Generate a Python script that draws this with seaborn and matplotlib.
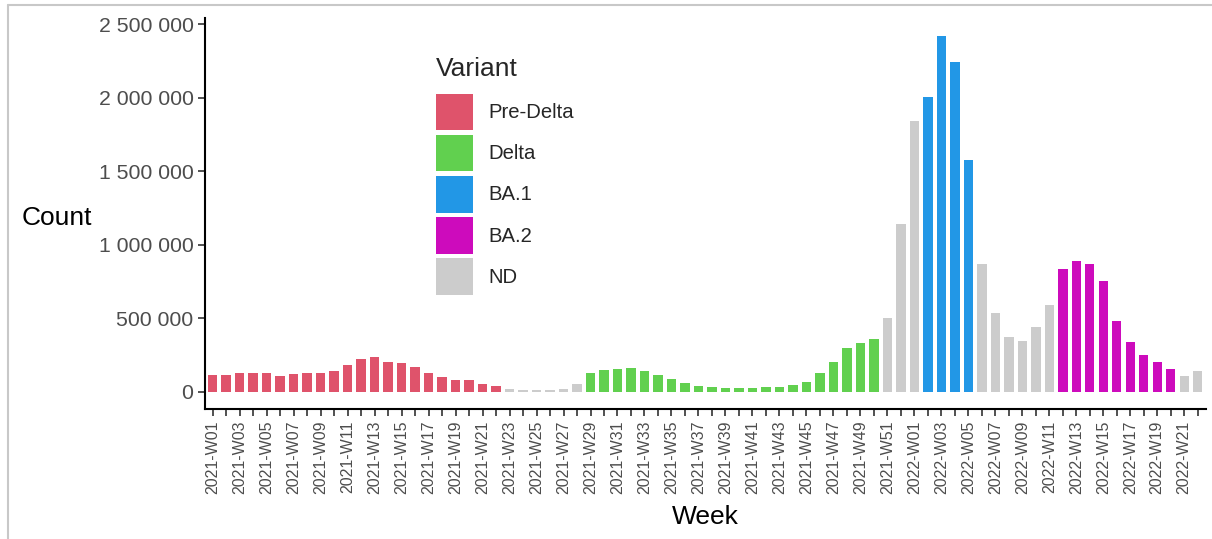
import matplotlib.pyplot as plt
import matplotlib.lines as mlines
import matplotlib.patches as mpatches
import matplotlib.ticker as mticker
import pandas as pd
import seaborn as sns

# weekly counts by variant
weeks = [f"2021-W{w:02d}" for w in range(1, 53)] + [f"2022-W{w:02d}" for w in range(1, 23)]

variant = (["Pre-Delta"] * 22 + ["ND"] * 6 + ["Delta"] * 22 + ["ND"] * 3
           + ["BA.1"] * 4 + ["ND"] * 6 + ["BA.2"] * 9 + ["ND"] * 2)

count = [
    # 2021-W01 .. W22 (Pre-Delta)
    113000, 113000, 129000, 129000, 125000, 107000, 116000, 123000, 123000, 143000, 182000,
    222000, 236000, 198000, 193000, 168000, 129000, 98000, 79000, 77000, 54000, 36000,
    # W23 .. W28 (ND)
    18000, 11000, 9000, 11000, 18000, 54000,
    # W29 .. W50 (Delta)
    125000, 148000, 150000, 157000, 139000, 111000, 86000, 61000, 41000, 30000, 27000,
    23000, 27000, 30000, 34000, 45000, 66000, 123000, 202000, 293000, 331000, 359000,
    # 2021-W51 .. 2022-W01 (ND)
    502000, 1142000, 1841000,
    # 2022-W02 .. W05 (BA.1)
    2005000, 2418000, 2239000, 1574000,
    # W06 .. W11 (ND)
    870000, 531000, 370000, 347000, 438000, 590000,
    # W12 .. W20 (BA.2)
    831000, 890000, 867000, 752000, 481000, 336000, 248000, 200000, 150000,
    # W21 .. W22 (ND)
    107000, 141000,
]

variant_order = ["Pre-Delta", "Delta", "BA.1", "BA.2", "ND"]
variant_colors = ["#DF536B", "#61D04F", "#2297E6", "#CD0BBC", "#CCCCCC"]

df = pd.DataFrame({"Week": weeks, "Variant": variant, "Count": count})
palette = dict(zip(variant_order, variant_colors))

sns.set_theme(style="ticks")
plt.rcParams['font.family'] = ['Liberation Sans', 'DejaVu Sans']

fig, ax = plt.subplots(figsize=(12.12, 5.39), dpi=100)
ax.set_position([0.1688, 0.2406, 0.8261, 0.7254])

sns.barplot(data=df, x="Week", y="Count", hue="Variant", order=weeks,
            hue_order=variant_order, palette=palette, dodge=False,
            width=0.7, saturation=1, linewidth=0, legend=False, ax=ax)

ymax = max(count)
ax.set_ylim(-0.05 * ymax, 1.05 * ymax)
ax.set_xlim(-0.6, len(weeks) - 0.4)
ax.set_yticks([0, 500000, 1000000, 1500000, 2000000, 2500000])
ax.yaxis.set_major_formatter(mticker.FuncFormatter(lambda v, p: f"{int(v):,}".replace(",", " ")))

ax.set_xticks(range(len(weeks)))
ax.set_xticklabels([w if i % 2 == 0 else "" for i, w in enumerate(weeks)],
                   rotation=90, fontsize=11.5, color="#4D4D4D")
ax.tick_params(axis="y", labelsize=15.3, labelcolor="#4D4D4D")
ax.tick_params(axis="both", length=5, width=1.2, color="#333333", pad=3)

sns.despine(ax=ax)
for s in ["left", "bottom"]:
    ax.spines[s].set_linewidth(1.5)
    ax.spines[s].set_color("black")

ax.set_xlabel("Week", fontsize=19, color="black")
ax.xaxis.set_label_coords(0.5, -0.275)
ax.xaxis.label.set_va("center")
ax.set_ylabel("Count", fontsize=19, rotation=0, color="black", ha="center", va="center")
ax.yaxis.set_label_coords(-0.1474, 0.49)

handles = [mpatches.Patch(facecolor=c, edgecolor="none", label=v)
           for v, c in zip(variant_order, variant_colors)]
leg = ax.legend(handles=handles, title="Variant", title_fontsize=19, fontsize=14.6,
                frameon=False, handlelength=1.82, handleheight=2.42, labelspacing=0.21,
                handletextpad=0.74, borderpad=0, borderaxespad=0, loc="upper left",
                bbox_to_anchor=(436 / 1212, 1 - 57 / 539), bbox_transform=fig.transFigure,
                alignment="left")
# more room between title and keys
leg._legend_box.sep = 9

# thin grey frame along top and left edges
fig.add_artist(mlines.Line2D([8 / 1212, 1], [1 - 4.5 / 539] * 2,
                             transform=fig.transFigure, color="#C8C8C8", lw=1.5))
fig.add_artist(mlines.Line2D([8 / 1212] * 2, [0, 1 - 4.5 / 539],
                             transform=fig.transFigure, color="#C8C8C8", lw=1.5))

fig.savefig("out.png", dpi=100)
